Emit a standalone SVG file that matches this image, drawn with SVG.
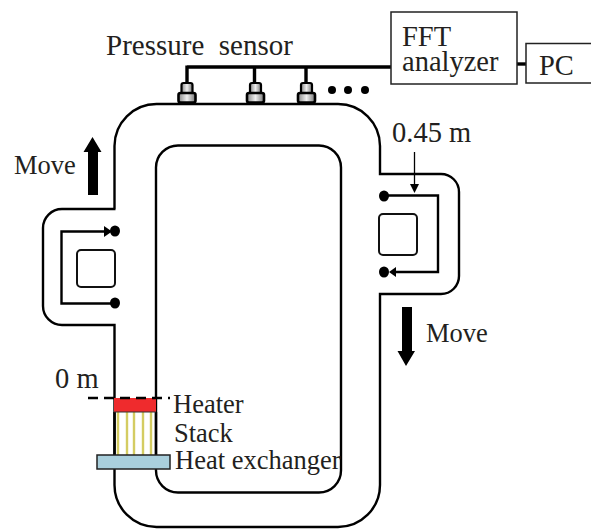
<svg xmlns="http://www.w3.org/2000/svg" width="591" height="529" viewBox="0 0 591 529">
<style>
text{font-family:"Liberation Serif","Times New Roman",serif;fill:#231f20;white-space:pre}
.t{font-size:26.500px}
.b{font-size:28.500px}
.p{font-size:29px}
.pipe{fill:none;stroke:#000;stroke-width:2.400}
.loop{fill:none;stroke:#000;stroke-width:2.400}
.box{fill:#fff;stroke:#222;stroke-width:1.500}
.sq{fill:#fff;stroke:#111;stroke-width:2}
.wire{fill:none;stroke:#000;stroke-width:3.400}
.cir{fill:none;stroke:#000;stroke-width:2.400}
.ys{stroke:#d4cc62;stroke-width:2.400}
.dot{fill:#000}
</style>
<defs>
<linearGradient id="g" x1="0" x2="1" y1="0" y2="0"><stop offset="0" stop-color="#888"/><stop offset=".5" stop-color="#eee"/><stop offset="1" stop-color="#777"/></linearGradient>
<g id="sensor">
<rect x="-5.500" y="-20" width="11" height="11" rx="2" fill="url(#g)" stroke="#000" stroke-width="2.200"/>
<rect x="-8.500" y="-10" width="17" height="9.500" rx="2" fill="url(#g)" stroke="#000" stroke-width="2.600"/>
</g>
</defs>
<g id="duct">
<path class="pipe" d="M114.500 209V146A42 42 0 0 1 156.500 104H338A42 42 0 0 1 380 146V174H441A18 18 0 0 1 459 192V276A18 18 0 0 1 441 294H380V485A42 42 0 0 1 338 527H156.500A42 42 0 0 1 114.500 485V325H62A19 19 0 0 1 43 306V228A19 19 0 0 1 62 209H115.500"/>
<rect class="pipe" x="156" y="145.500" width="185" height="347" rx="22"/>
</g>
<g id="wires">
<path class="wire" d="M187 67H391M187 65.500V84M254.500 67V84M306 67V84"/>
<path class="wire" d="M517 64H526"/>
</g>
<g id="sensor-1"><use href="#sensor" x="187" y="103"/></g>
<g id="sensor-2"><use href="#sensor" x="255.500" y="103"/></g>
<g id="sensor-3"><use href="#sensor" x="306.500" y="103"/></g>
<g id="more-dots">
<circle class="dot" cx="332" cy="90" r="4"/><circle class="dot" cx="348" cy="90" r="4"/><circle class="dot" cx="365" cy="90" r="4"/>
</g>
<g id="pressure-label"><text class="p" x="106" y="55">Pressure  sensor</text></g>
<g id="fft"><rect class="box" x="391" y="12" width="126" height="72"/><text class="b"><tspan x="402" y="46">FFT</tspan><tspan x="402" y="71">analyzer</tspan></text></g>
<g id="pc"><rect class="box" x="526" y="43.500" width="70" height="39.500"/><text class="b" x="539" y="75">PC</text></g>
<g id="left-branch">
<rect class="sq" x="77" y="250" width="38" height="37" rx="4"/>
<path class="cir" d="M110 231.500H61.500V303.500H112"/>
<path class="dot" d="M104 226L112 231.500L104 237Z"/>
<ellipse class="dot" cx="115" cy="231" rx="5" ry="5.500"/>
<ellipse class="dot" cx="115" cy="303" rx="5" ry="5.500"/>
</g>
<g id="right-branch">
<rect class="sq" x="379" y="214" width="38" height="41" rx="4"/>
<path class="cir" d="M387 195.500H438V272H392"/>
<path class="dot" d="M389 272L396 267V277Z"/>
<ellipse class="dot" cx="384" cy="196" rx="5" ry="5.500"/>
<ellipse class="dot" cx="384" cy="272" rx="5" ry="5.500"/>
</g>
<g id="dim-045">
<text class="b" x="392" y="142">0.45 m</text>
<path d="M414.500 152V186" stroke="#000" stroke-width="1.300" fill="none"/>
<path class="dot" d="M410 184H419L414.500 193Z"/>
</g>
<g id="move-up"><path class="dot" d="M88 195V152H83.500L92.500 137L101.500 152H98V195Z"/><text class="t" x="14" y="174">Move</text></g>
<g id="move-down"><path class="dot" d="M402 307H412V351H415L406 366L397.500 351H402Z"/><text class="t" x="426" y="342">Move</text></g>
<g id="stack">
<path class="ys" d="M118 412V455M127 412V455M134 412V455M143 412V455M151 412V455"/>
<path class="loop" d="M114.500 412V456M156 412V456"/>
</g>
<g id="heater"><rect x="114" y="398" width="42" height="14" fill="#ef2b2d"/><path d="M114 412H156" stroke="#333" stroke-width="1"/></g>
<g id="zero-mark">
<path d="M88 398H170" stroke="#000" stroke-width="2.400" stroke-dasharray="10 6" fill="none"/>
<text class="b" x="55" y="388">0 m</text>
</g>
<g id="exchanger"><rect x="97" y="455" width="73" height="14" fill="#a9cfdc" stroke="#222" stroke-width="1.500"/></g>
<g id="labels">
<text class="t" x="173" y="413">Heater</text>
<text class="t" x="174" y="442">Stack</text>
<text class="t" x="175" y="469">Heat exchanger</text>
</g>
</svg>
